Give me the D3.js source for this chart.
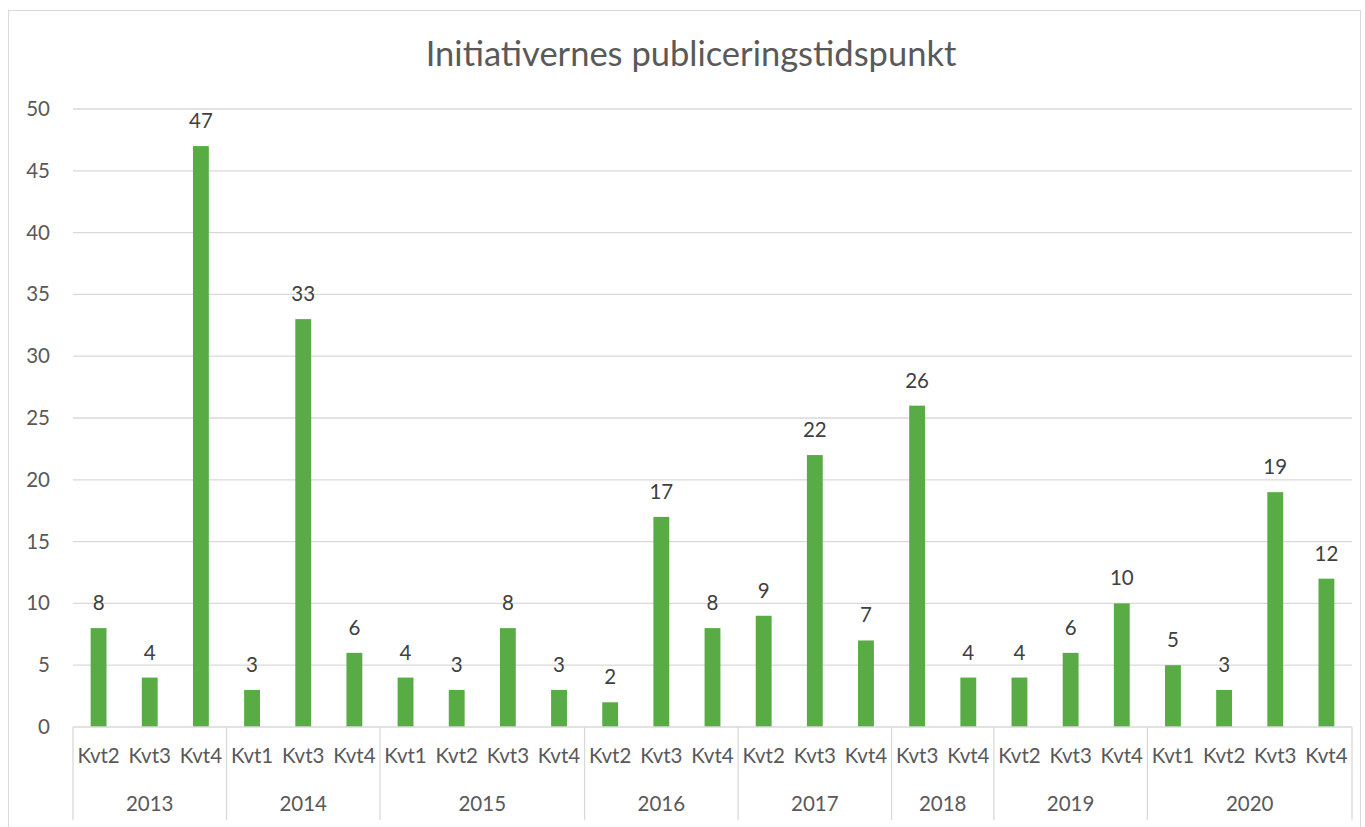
<!DOCTYPE html>
<html><head><meta charset="utf-8">
<script src="https://cdn.jsdelivr.net/npm/d3@7"></script>
<style>body{margin:0;background:#fff;font-family:Lato,"Open Sans",sans-serif;}</style>
</head><body>
<svg id="c" width="1365" height="827"></svg>
<script>
const years = ["2013","2014","2015","2016","2017","2018","2019","2020"];
const quarters = [
  ["Kvt2","Kvt3","Kvt4"],
  ["Kvt1","Kvt3","Kvt4"],
  ["Kvt1","Kvt2","Kvt3","Kvt4"],
  ["Kvt2","Kvt3","Kvt4"],
  ["Kvt2","Kvt3","Kvt4"],
  ["Kvt3","Kvt4"],
  ["Kvt2","Kvt3","Kvt4"],
  ["Kvt1","Kvt2","Kvt3","Kvt4"]
];
const values = [
  [8,4,47],
  [3,33,6],
  [4,3,8,3],
  [2,17,8],
  [9,22,7],
  [26,4],
  [4,6,10],
  [5,3,19,12]
];
const yTicks = [0,5,10,15,20,25,30,35,40,45,50];
const title = "Initiativernes publiceringstidspunkt";

(function(){
const data = [];
years.forEach((y,i)=>quarters[i].forEach((q,j)=>data.push({key:y+"-"+q, year:y, q:q, v:values[i][j]})));

const FS = 20.5;
const svg = d3.select("#c");
const pL=73, pR=1352, pT=109, pB=727;
svg.append("rect").attr("x",8.5).attr("y",10.5).attr("width",1352).attr("height",830).attr("fill","#fff").attr("stroke","#d9d9d9");

const x = d3.scaleBand().domain(data.map(d=>d.key)).range([pL,pR]).paddingInner(0.69).paddingOuter(0.345);
const y = d3.scaleLinear().domain([0,50]).range([pB,pT]);

svg.append("text").attr("x",691).attr("y",66).attr("text-anchor","middle")
  .attr("font-size",34.5).attr("fill","#595959").text(title);

const grid = svg.append("g");
grid.selectAll("line").data(yTicks.filter(t=>t>0)).join("line")
  .attr("x1",pL).attr("x2",pR).attr("y1",d=>y(d)).attr("y2",d=>y(d))
  .attr("stroke","#d9d9d9").attr("stroke-width",1.3);

const yAxis = d3.axisLeft(y).tickValues(yTicks).tickSize(0).tickPadding(23);
const ya = svg.append("g").attr("transform",`translate(${pL},0)`).call(yAxis);
ya.select(".domain").remove();
ya.selectAll("text").attr("font-size",FS).attr("fill","#595959").attr("font-family","Lato,sans-serif");

svg.append("g").selectAll("rect").data(data).join("rect")
  .attr("x",d=>x(d.key)).attr("width",x.bandwidth())
  .attr("y",d=>y(d.v)).attr("height",d=>y(0)-y(d.v)).attr("fill","#58ab45");

svg.append("g").selectAll("text").data(data).join("text")
  .attr("x",d=>x(d.key)+x.bandwidth()/2).attr("y",d=>y(d.v)-18)
  .attr("text-anchor","middle").attr("font-size",FS).attr("fill","#404040").text(d=>d.v);

const step = x.step();
const axis = svg.append("g");
axis.append("line").attr("x1",pL).attr("x2",pR).attr("y1",pB).attr("y2",pB).attr("stroke","#d9d9d9").attr("stroke-width",1.3);
const qAxis = d3.axisBottom(x).tickFormat(k=>k.split("-")[1]).tickSize(0).tickPadding(21);
const qa = svg.append("g").attr("transform",`translate(0,${pB})`).call(qAxis);
qa.select(".domain").remove();
qa.selectAll("text").attr("font-size",FS).attr("fill","#595959").attr("font-family","Lato,sans-serif");

let idx=0;
const bounds=[pL];
years.forEach((yr,i)=>{
  const first=data[idx].key; idx+=quarters[i].length; const last=data[idx-1].key;
  const x0 = x(first)-(step-x.bandwidth())/2, x1 = x(last)+x.bandwidth()+(step-x.bandwidth())/2;
  bounds.push(x1);
  axis.append("text").attr("x",(x0+x1)/2).attr("y",811).attr("text-anchor","middle")
    .attr("font-size",FS).attr("fill","#595959").text(yr);
});
axis.selectAll("line.sep").data(bounds).join("line").attr("class","sep")
  .attr("x1",d=>d).attr("x2",d=>d).attr("y1",pB).attr("y2",820)
  .attr("stroke","#d9d9d9").attr("stroke-width",1.3);
})();
</script>
</body></html>
